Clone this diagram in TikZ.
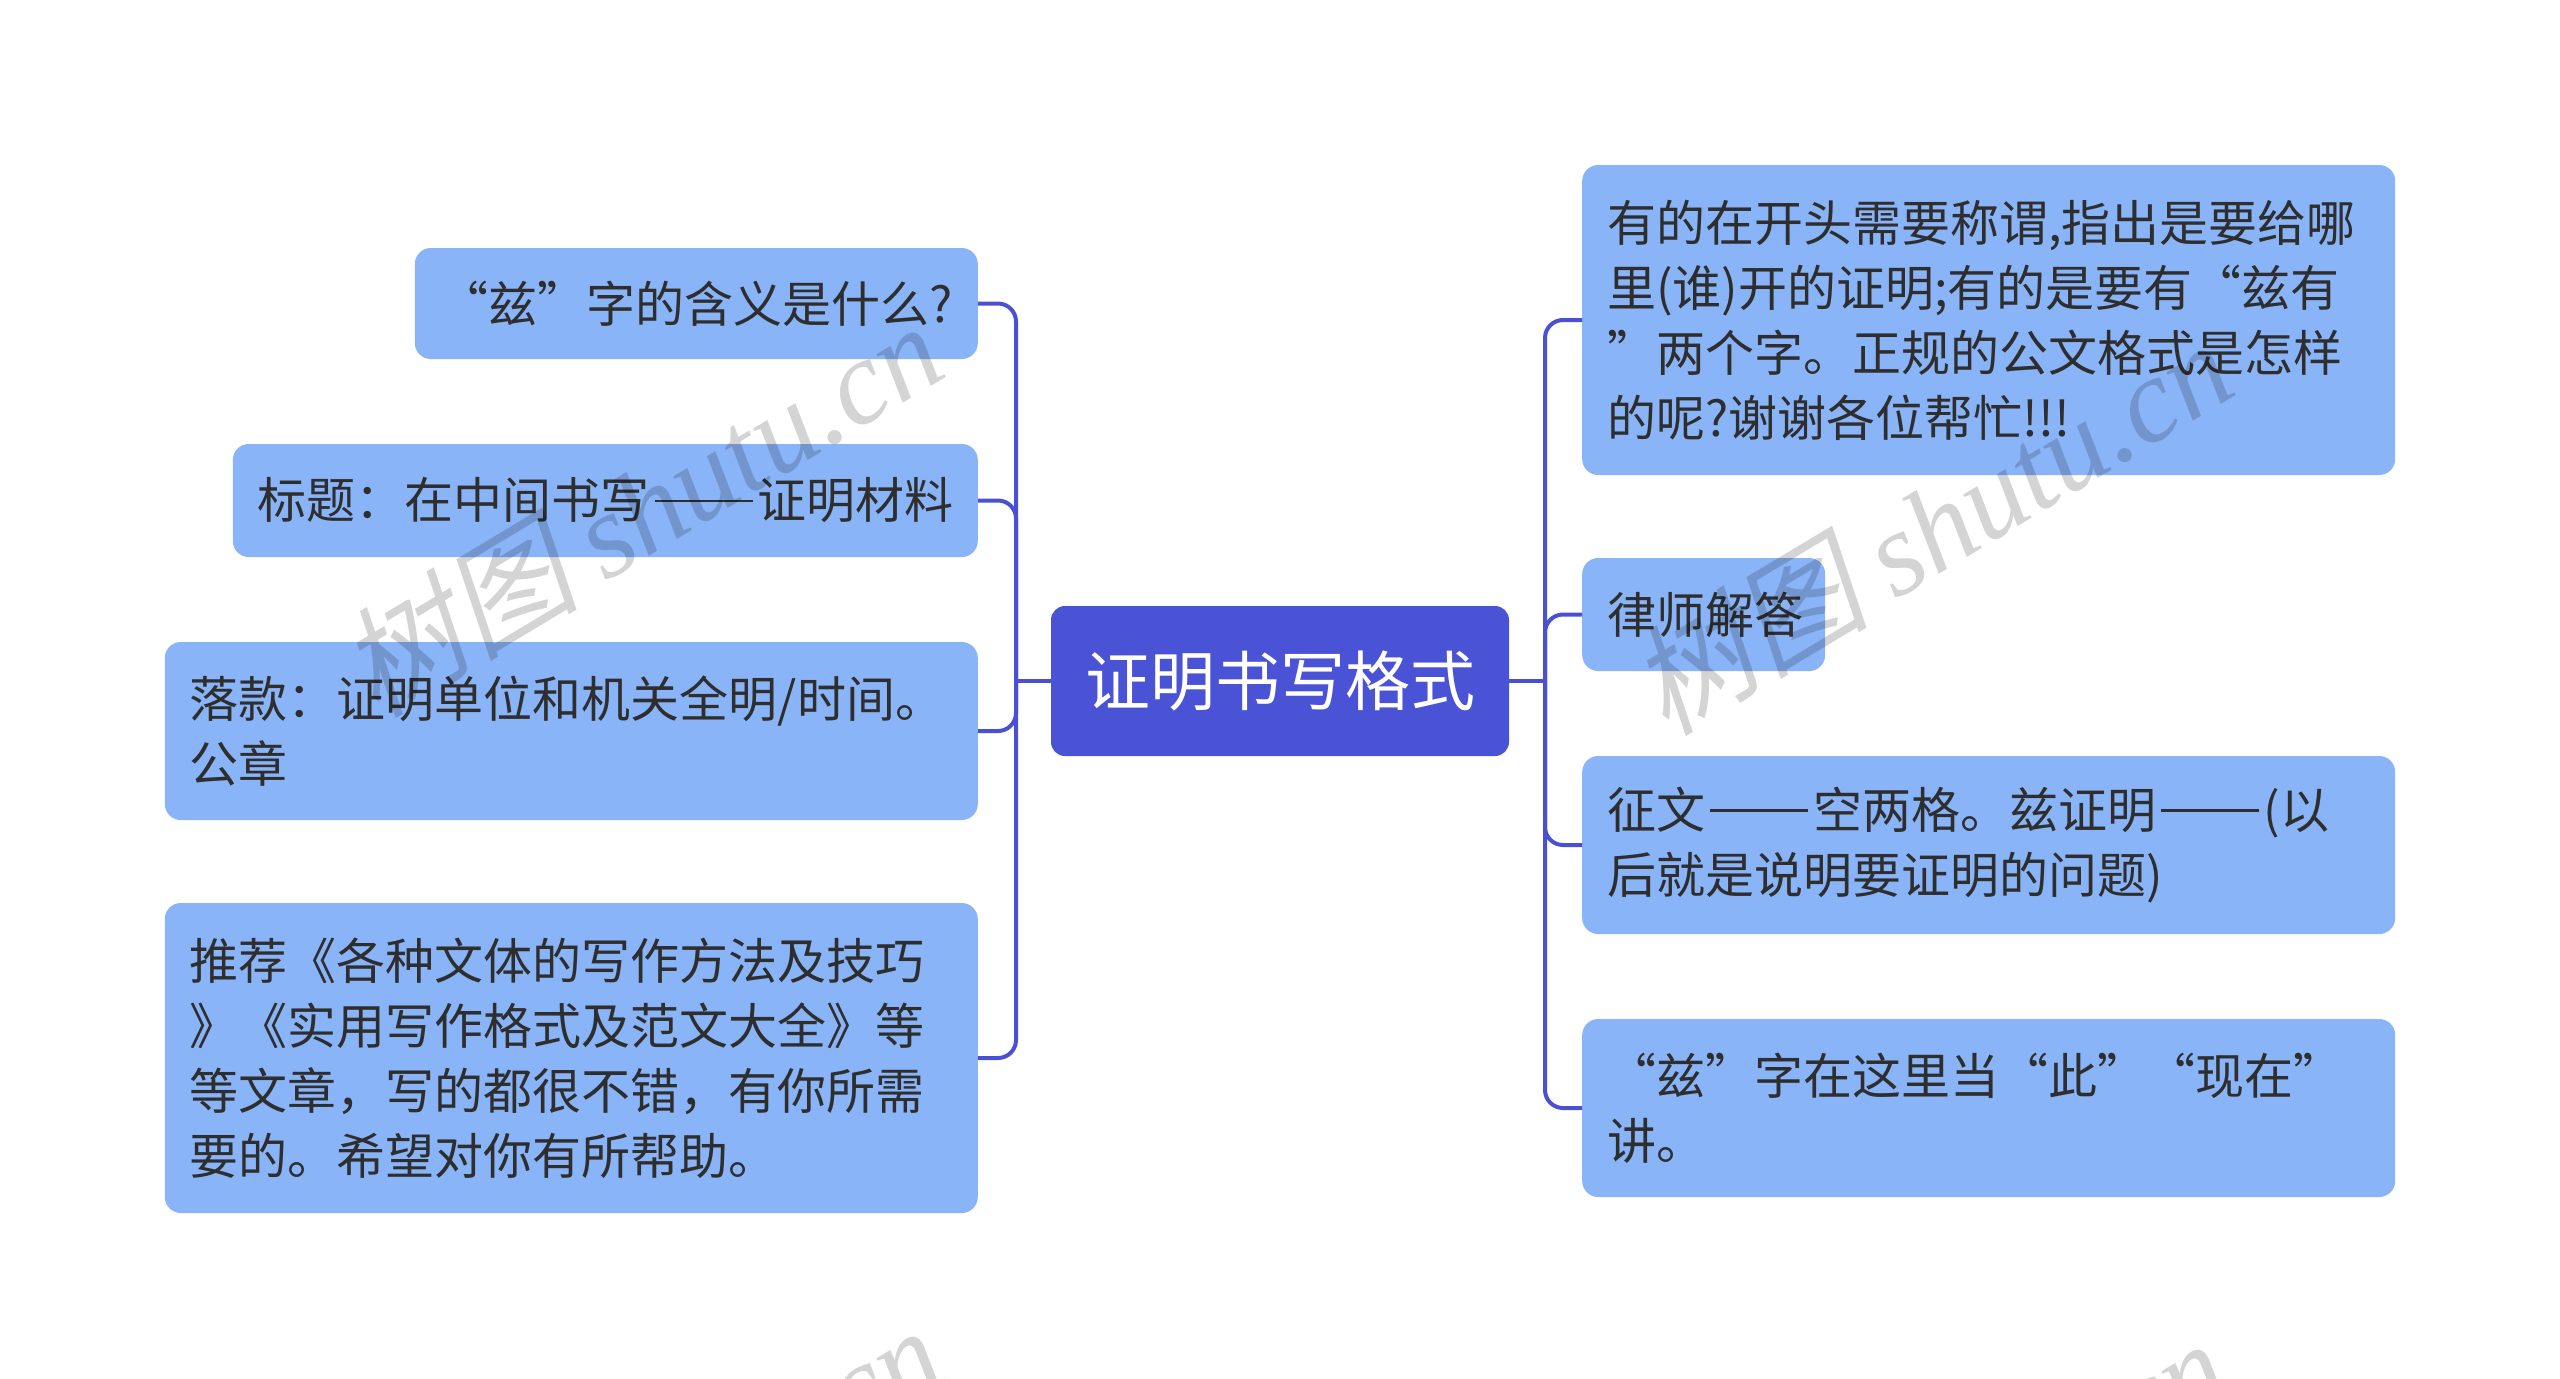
\documentclass[tikz,border=0pt]{standalone}
\usepackage{fontspec}
\setmainfont{Noto Sans CJK SC}
\newfontfamily\wmcjk{Noto Sans CJK SC}[FakeSlant=0.22]
\newfontfamily\wmlat{Liberation Serif}
\newcommand\ddash{\kern0.1em\rule[0.34em]{2em}{0.055em}\kern0.1em\relax}
\definecolor{linecol}{RGB}{74,80,212}
\definecolor{rootfill}{RGB}{74,82,214}
\definecolor{leaffill}{RGB}{138,180,248}
\definecolor{txtcol}{RGB}{46,46,46}
\tikzset{
  leaf/.style={fill=leaffill, rounded corners=16pt, inner xsep=25pt, inner ysep=0pt,
    font=\fontsize{49}{65}\selectfont, text=txtcol, align=left},
  rootbox/.style={fill=rootfill, rounded corners=14pt, text=white,
    font=\fontsize{65}{78}\selectfont, minimum width=458pt, minimum height=150pt, inner sep=0pt},
  conn/.style={draw=linecol, line width=4pt, rounded corners=18pt},
  wm/.style={text=black, opacity=0.17, rotate=31, inner sep=0pt,
    font=\fontsize{120}{130}\selectfont}
}
\begin{document}
\begin{tikzpicture}[x=1pt,y=-1pt]
\useasboundingbox (0,0) rectangle (2560,1379);
\fill[white] (0,0) rectangle (2560,1379);

\node[rootbox] (root) at (1280,681) {证明书写格式};

% left children
\node[leaf, text width=513pt, minimum height=111pt, anchor=east] (l1) at (978,303.5) {“兹”字的含义是什么?};
\node[leaf, text width=695pt, minimum height=113pt, anchor=east] (l2) at (978,500.5) {标题：在中间书写\ddash 证明材料};
\node[leaf, text width=763pt, minimum height=178pt, anchor=east] (l3) at (978,731) {落款：证明单位和机关全明/时间。\\公章};
\node[leaf, text width=763pt, minimum height=310pt, anchor=east] (l4) at (978,1058) {推荐《各种文体的写作方法及技巧\\》《实用写作格式及范文大全》等\\等文章，写的都很不错，有你所需\\要的。希望对你有所帮助。};

% right children
\node[leaf, text width=763pt, minimum height=310pt, anchor=west] (r1) at (1582,320) {有的在开头需要称谓,指出是要给哪\\里(谁)开的证明;有的是要有“兹有\\”两个字。正规的公文格式是怎样\\的呢?谢谢各位帮忙!!!};
\node[leaf, text width=193pt, minimum height=113pt, anchor=west] (r2) at (1582,614.5) {律师解答};
\node[leaf, text width=763pt, minimum height=178pt, anchor=west] (r3) at (1582,845) {征文\ddash 空两格。兹证明\ddash (以\\后就是说明要证明的问题)};
\node[leaf, text width=763pt, minimum height=178pt, anchor=west] (r4) at (1582,1108) {“兹”字在这里当“此”“现在”\\讲。};

% connectors
\coordinate (lt) at (1016,681);
\coordinate (rt) at (1545,681);
\draw[conn] (root.west) -- (lt);
\draw[conn] (root.east) -- (rt);
\foreach \c in {l1,l2,l3,l4} { \draw[conn] (lt) |- (\c.east); }
\foreach \c in {r1,r2,r3,r4} { \draw[conn] (rt) |- (\c.west); }

% watermarks
\begin{scope}
\clip (0,0) rectangle (2560,1379);
\node[wm] (w1) at (640,508) {{\wmcjk 树图} {\wmlat\itshape shutu.cn}};
\node[wm] (w2) at (1930,526) {{\wmcjk 树图} {\wmlat\itshape shutu.cn}};
\node[wm] (w3) at (640,1512) {{\wmcjk 树图} {\wmlat\itshape shutu.cn}};
\node[wm] (w4) at (1925,1525) {{\wmcjk 树图} {\wmlat\itshape shutu.cn}};
\end{scope}
\end{tikzpicture}
\end{document}
